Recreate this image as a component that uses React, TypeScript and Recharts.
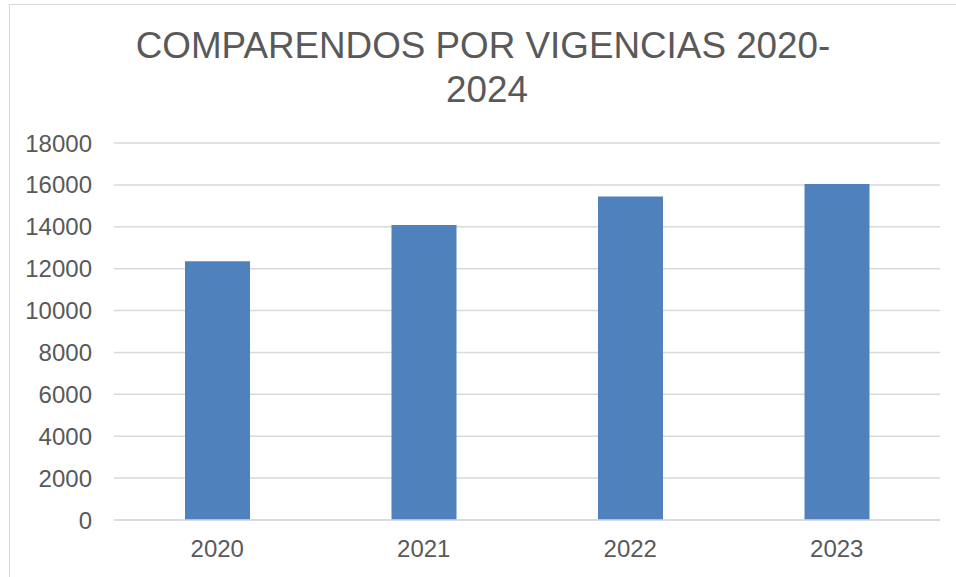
import { BarChart, Bar, XAxis, YAxis, CartesianGrid } from 'recharts'

const years = ['2020', '2021', '2022', '2023']
const comparendos = [12360, 14080, 15440, 16040]
const yTicks = [0, 2000, 4000, 6000, 8000, 10000, 12000, 14000, 16000, 18000]

const data = years.map((year, i) => ({ year, total: comparendos[i] }))

const font = '"Liberation Sans", Arial, sans-serif'
const textColor = '#595959'

export default function App() {
  return (
    <div style={{ position: 'absolute', left: 0, top: 0, width: 956, height: 577, overflow: 'hidden', background: '#fff' }}>
      <div
        style={{
          position: 'absolute',
          left: 9,
          top: 4,
          width: 1000,
          height: 700,
          border: '1px solid #d9d9d9',
          boxSizing: 'border-box',
        }}
      />
      <BarChart
        width={956}
        height={577}
        data={data}
        margin={{ top: 143, right: 16, bottom: 0, left: 0 }}
        style={{ position: 'absolute', left: 0, top: 0, fontFamily: font }}
      >
        <CartesianGrid vertical={false} stroke="#d9d9d9" strokeWidth={1.5} />
        <XAxis
          dataKey="year"
          height={57}
          axisLine={{ stroke: '#d9d9d9', strokeWidth: 1.5 }}
          tickLine={false}
          tickSize={0}
          tickMargin={20}
          tick={{ fill: textColor, fontSize: 24 }}
        />
        <YAxis
          width={114}
          domain={[0, 18000]}
          ticks={yTicks}
          interval={0}
          axisLine={false}
          tickLine={false}
          tickSize={0}
          tickMargin={22}
          tick={{ fill: textColor, fontSize: 24 }}
        />
        <Bar dataKey="total" fill="#4f81bd" barSize={65} isAnimationActive={false} />
      </BarChart>
      <svg width={956} height={577} style={{ position: 'absolute', left: 0, top: 0, pointerEvents: 'none' }}>
        <text x={483} y={58} textAnchor="middle" fontFamily={font} fontSize={36.8} fill={textColor}>
          COMPARENDOS POR VIGENCIAS 2020-
        </text>
        <text x={487} y={102} textAnchor="middle" fontFamily={font} fontSize={36.8} fill={textColor}>
          2024
        </text>
      </svg>
    </div>
  )
}
